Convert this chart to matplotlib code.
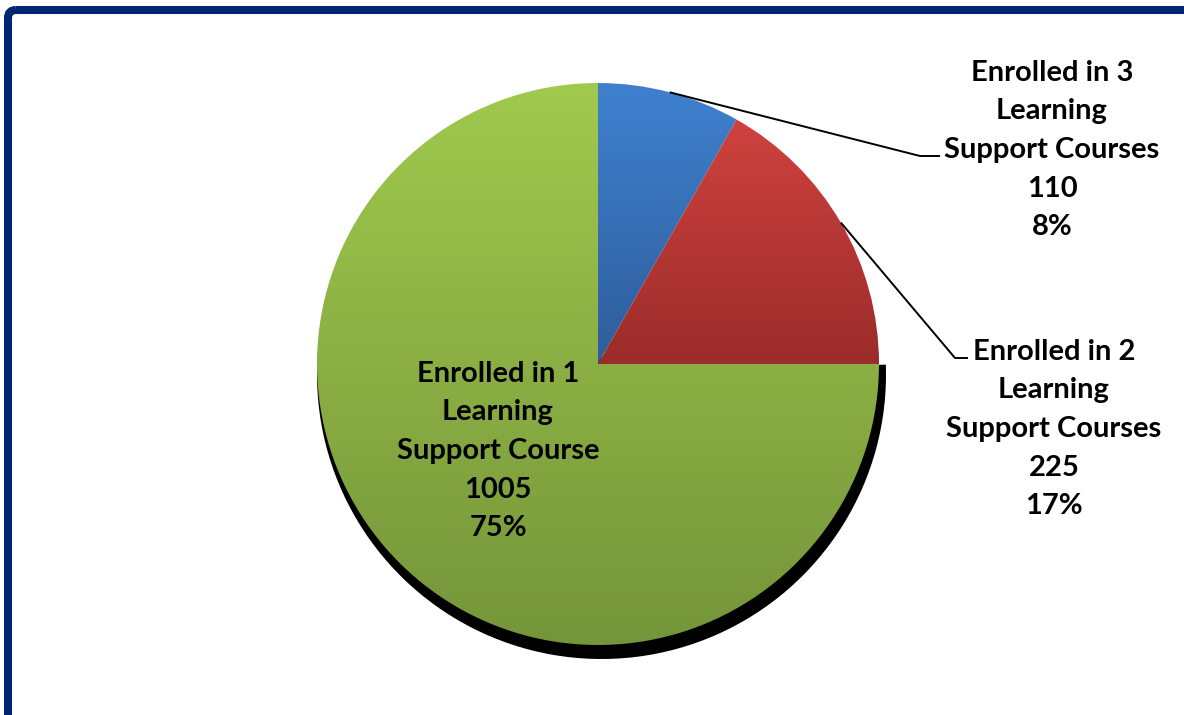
import numpy as np
import matplotlib
matplotlib.use('Agg')
import matplotlib.pyplot as plt
from matplotlib.patches import Wedge, FancyBboxPatch
from matplotlib.colors import LinearSegmentedColormap

# data
labels = ['Enrolled in 3\nLearning\nSupport Courses',
          'Enrolled in 2\nLearning\nSupport Courses',
          'Enrolled in 1\nLearning\nSupport Course']
counts = [110, 225, 1005]
# gradient colours for each slice (top, bottom)
grads = [('#3f81cf', '#2e5d9b'), ('#cf423f', '#9b2c2a'), ('#a1c94d', '#75953a')]

W, H = 1184, 715
R = 281.0  # pie radius in px
cx, cy = 598, 364  # pie centre in px (from top)

fig = plt.figure(figsize=(W / 100, H / 100), dpi=100)
fig.patch.set_facecolor('white')
ax = fig.add_axes([0, 0, 1, 1])
ax.axis('off')

total = sum(counts)

# slice angles (clockwise from 12 o'clock)
start = 90
angles = []
for c in counts:
    sweep = 360 * c / total
    angles.append((start - sweep, start))
    start -= sweep

# shadow under the big slice (dropped down and a little right)
ax.add_patch(Wedge((3.5 / R, -10.5 / R), 1 + 3.5 / R, angles[2][0] + 360, angles[2][1] + 362,
                   facecolor='black', edgecolor='none', zorder=1))

wedges, _ = ax.pie(counts, startangle=90, counterclock=False, radius=1,
                   wedgeprops=dict(linewidth=0, edgecolor='none'))

for w, (c1, c2) in zip(wedges, grads):
    w.set_facecolor('none')
    w.set_zorder(2)
    bb = w.get_path().get_extents(w.get_patch_transform())
    cmap = LinearSegmentedColormap.from_list('g', [c2, c1])
    grad = np.linspace(0, 1, 256).reshape(-1, 1)
    im = ax.imshow(grad, cmap=cmap, origin='lower', aspect='auto',
                   extent=[bb.x0, bb.x1, bb.y0, bb.y1], zorder=2, interpolation='bilinear')
    im.set_clip_path(w)

ax.set_xlim(-cx / R, (W - cx) / R)
ax.set_ylim((cy - H) / R, cy / R)
ax.set_aspect('equal')

font = dict(family=['Lato', 'DejaVu Sans'], fontweight='bold', fontsize=21,
            ha='center', va='center', linespacing=1.6, color='black')


def px(x, y):
    return (x - cx) / R, (cy - y) / R


texts = [f'{l}\n{c}\n{round(c / total * 100)}%' for l, c in zip(labels, counts)]
text_pos = [px(1052, 150), px(1054, 429), px(498, 451)]
elbows = [(px(920, 156), px(940, 156)), (px(955, 358), px(968, 358))]

for t, p in zip(texts, text_pos):
    ax.text(p[0], p[1], t, zorder=5, **font)

# leader lines for the two small slices
for i in range(2):
    a0, a1 = angles[i]
    mid = np.deg2rad((a0 + a1) / 2)
    ex, ey = np.cos(mid), np.sin(mid)
    (bx, by), (hx, hy) = elbows[i]
    ax.plot([ex, bx, hx], [ey, by, hy], color='black', lw=1.4, zorder=4,
            solid_capstyle='butt')

# navy frame
frame = FancyBboxPatch((8, 10), 1200, 720, boxstyle='round,pad=0,rounding_size=8',
                       facecolor='none', edgecolor='#002672', linewidth=5.8, zorder=10)
frame.set_transform(matplotlib.transforms.Affine2D().scale(1, -1).translate(0, H))
fig.patches.append(frame)

fig.savefig('out.png', dpi=100, facecolor='white')
